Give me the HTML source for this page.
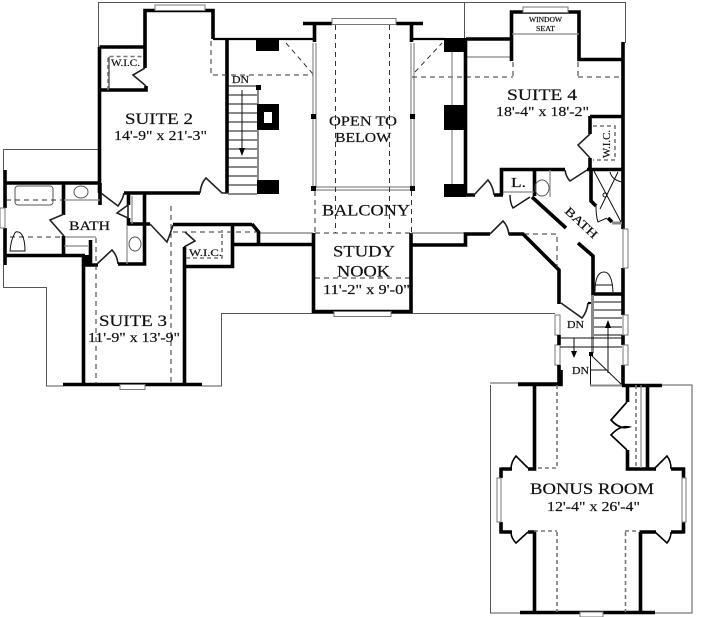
<!DOCTYPE html>
<html><head><meta charset="utf-8"><style>
html,body{margin:0;padding:0;background:#fff}
svg{display:block;position:absolute;left:0;top:0;filter:blur(.3px)}
text{font-family:"Liberation Serif",serif;fill:#111;stroke:#111;stroke-width:.2}
.w{fill:none;stroke:#000;stroke-width:3.6;stroke-linejoin:miter}
.m{fill:none;stroke:#000;stroke-width:2.2}
.t{fill:none;stroke:#555;stroke-width:1}
.g{fill:none;stroke:#888;stroke-width:1.2}
.k{fill:none;stroke:#111;stroke-width:1}
.l{fill:none;stroke:#222;stroke-width:1.6}
.d{fill:none;stroke:#333;stroke-width:1;stroke-dasharray:5 4}
.dg{fill:none;stroke:#777;stroke-width:1.6;stroke-dasharray:4 3}
.win{fill:#fff;stroke:#777;stroke-width:1}
.b{fill:#000}
</style></head><body>
<svg width="725" height="617" viewBox="0 0 725 617" xmlns="http://www.w3.org/2000/svg">
<!-- roof outlines -->
<path class="t" d="M98.500 47V2.500H625.500V43M464.500 2.500V38M3.500 170V149.500H98M3.500 265V287.500H46.500V386H63M202 386H221.500V313.500H555M490 383H518M490.500 385V613H692V385H662"/>
<!-- suite 2 -->
<path class="w" d="M145 68V10.500H213V39"/>
<path class="m" d="M213 39H313"/>
<path class="w" d="M227 39V193"/>
<path class="w" d="M99.500 47V193M99.500 47H145M146 86V90H99.500"/>
<path class="l" d="M145 68L133 75L146 86"/>
<path class="w" d="M124 193H200"/>
<path class="l" d="M200 193Q201 183 206 178L222 193H228"/>
<path class="k" d="M109 90V57"/>
<path class="dg" d="M108 90V56.500H143"/>
<rect class="win" x="155" y="5" width="50" height="5.500"/>
<path class="d" d="M211 41V75H313"/>
<path class="d" d="M286 43L313 74"/>
<!-- stairs -->
<path class="k" d="M228 95H257M228 104H257M228 113H257M228 122H257M228 131H257M228 140H257M228 149H257M228 158H257M228 167H257M228 176H257M228 185H257M228 194H257M242 90V150"/>
<path class="b" d="M239 148H245L242 156Z"/>
<path class="k" d="M228 86H256"/>
<path class="g" style="stroke-width:2" d="M258 90V180"/>
<rect class="b" x="256" y="85" width="5" height="5"/>
<rect class="b" x="256" y="39" width="23" height="12"/>
<path class="b" fill-rule="evenodd" d="M257 104H279V130H257ZM264 112V123H272V112Z"/>
<rect class="b" x="257" y="180" width="22" height="14"/>
<!-- open to below -->
<path class="w" d="M303 23.500H332M396 23.500H423M314.500 23V42M411.500 23V42"/>
<path class="m" d="M411 39H445"/>
<rect class="win" x="332" y="18.500" width="64" height="6"/>
<path class="g" d="M313 43V188M316 43V188M411 43V188M414 43V188M313 187H412M313 190H412"/>
<path class="b" d="M311 114h5v5h-5zM410 114h5v5h-5zM311 186h5v5h-5zM410 186h5v5h-5z"/>
<path class="d" d="M335.500 25V233M389.500 25V233M315 191V233M411.500 191V233M315 233H411M412 77H465M466 77H513M578 77H622M315 278H411"/>
<path class="d" d="M415 72L442 43"/>
<!-- masonry right -->
<rect class="b" x="444" y="38" width="22" height="14"/>
<rect class="b" x="444" y="105" width="22" height="25"/>
<rect class="b" x="444" y="184" width="22" height="13"/>
<path class="g" d="M452 52V105M452 130V184M466 57H512"/>
<path class="w" d="M465.500 39V195M466 39H512"/>
<!-- suite 4 -->
<path class="w" d="M511.500 61V12H579V59.500H623M623 42V229M623 268V315M623 335V345M623 365V385"/>
<path class="g" d="M512 34H579"/>
<rect class="win" x="523" y="7" width="45" height="5.500"/>
<path class="d" d="M513 62V77M578 62V77"/>
<path class="w" d="M590 116.500H623M590 116V134M590 158V169"/>
<path class="l" d="M590 134L578 145L590 158"/>
<path class="dg" d="M593 126H615V160H593"/>
<path class="w" d="M501.500 195V169.500H565M587 169.500H623M534.500 169V196"/>
<path class="l" d="M565 170Q566 177 570 181L587 170"/>
<path class="w" d="M466 195H475M494 195H503"/>
<path class="l" d="M474 195L488 180Q493 186 494 195"/>
<path class="g" d="M503 192H534M550 170V197"/>
<path class="k" style="stroke-width:1.400" d="M510 195Q510 203 513 208L530 197"/>
<ellipse cx="542" cy="188" rx="7" ry="8" class="t"/>
<path class="w" d="M532 197L566 228M578 243L593 256V295M592 294H623"/>
<!-- shower -->
<path class="w" d="M591 169V201L596 206M608 218L612 222"/>
<path class="g" style="stroke-width:3" d="M612 223H622"/>
<path class="k" d="M594 171L621 222M618 172L600 209M596 206Q596 216 598 222L607 218M610 172Q612 180 622 182"/>
<circle cx="605" cy="195" r="2" class="k"/>
<path class="k" d="M595 292Q595 272 604 272Q612 272 613 292M595 285H613"/>
<path class="win" d="M623 229H628V268H623ZM623 315H628V335H623ZM623 345H628V365H623ZM555 315H560V335H555ZM555 345H560V365H555Z"/>
<!-- study nook -->
<path class="w" d="M313.500 233V311.500H411V233"/>
<rect class="win" x="334" y="311.500" width="57" height="5"/>
<path class="t" d="M259 233H313M411 233H465"/>
<path class="w" d="M232 244.500H313M411 245H465.500V234H490M509 234H523L559 270V304M559 335V345M559 365V384H518"/>
<path class="l" d="M490 234L503 221Q508 226 509 235"/>
<path class="d" d="M524 234H557V268"/>
<!-- stairs 2 -->
<path class="l" d="M561 303L582 318Q587 312 588 303"/>
<path class="m" d="M588 303H592"/>
<path class="g" style="stroke-width:3" d="M592.500 295V353"/>
<path class="k" d="M594 302H622M594 310H622M594 318H622M594 327H622M594 335H622M560 338H622M560 347H622M591 355L622 385M590.500 355V386M591 370H606M608 326V373M574 338V353"/>
<path class="g" style="stroke-width:2" d="M590 385.500H622"/>
<path class="b" d="M605 328H611L608 320ZM571 351H577L574 358Z"/>
<rect class="b" x="589" y="352" width="4" height="4"/>
<!-- bonus room -->
<path class="w" d="M518 384.500H561V370M622 385.500H662M528 469H534.500V385M501 469H512M501 467.500V478M501 522V533.500M500 532H512M528 532H534.500V612M520 612.500H655"/>
<path class="w" d="M627.500 385V402M627.500 450V469H656M647.500 385V469M671 469H683.500V478M683.500 522V533.500M684 532H671M640.500 532V612M640 532H656"/>
<rect class="win" x="580" y="612" width="23" height="5"/>
<path class="win" d="M497 478H501V522H497ZM682 478H686V522H682Z"/>
<path class="m" style="stroke-width:1.600" d="M528 468L516 456Q511 462 511 469M528 532L516 543Q511 538 511 532M655 468L667 456Q671 461 671 469M655 532L667 543Q671 538 671 532"/>
<path class="m" style="stroke-width:1.700" d="M627 402L611 420Q620 430 629 427Q620 425 611 435L627 450"/>
<path class="dg" d="M636 385V468"/><path class="g" d="M641 385V468"/>
<path class="dg" d="M557 385V468H535M557 532V612M625.500 532V612M534 531H557M625 531H640"/>
<!-- left bath block -->
<path class="w" d="M5 170V208M5 228V265M5 183H100M100 183V205M5 255.500H85M83.500 255V384M63.500 183V215M63.500 236V255"/>
<rect class="win" x="0" y="208" width="5" height="20"/>
<rect x="15" y="186" width="38" height="19" rx="3" class="t"/>
<ellipse cx="81" cy="192" rx="7" ry="6" class="t"/>
<path class="d" d="M6 200H63M10 237H64"/>
<path class="g" d="M64 200H100M64 246H88M65 237H96"/>
<path class="k" d="M10 251Q11 240 14 235Q15 231 18 232Q20 232 22 235Q25 240 25 251Z"/>
<path class="l" d="M64 214L50 220L64 236"/>
<rect class="b" x="83" y="255" width="9" height="10"/>
<path class="w" d="M90.500 240V265M83 265H98"/>
<path class="l" d="M97 264L112 250Q117 255 118 264"/>
<path class="w" d="M118 264H144.500V193M128.500 193V205M128.500 218V225M127 224H150M173 224.500H252"/>
<path class="l" d="M101 193L118 206Q123 199 124 193M117 213L128 205V218Z"/>
<path class="g" d="M132 196V224M127 225V264"/>
<ellipse cx="135" cy="244" rx="6" ry="7" class="t"/>
<path class="l" d="M150 224L167 242Q171 232 173 225"/>
<path class="w" d="M252 224L258.500 232V244"/>
<path class="w" d="M184.500 247V384M184 266.500H232.500V225"/>
<path class="w" d="M63 384.500H202"/>
<path class="l" d="M185 232L195 241L184 247"/>
<rect class="win" x="120" y="384.500" width="25" height="5"/>
<path class="d" d="M96 238V384M171 206V384M173 232H258"/>
<path class="dg" d="M186 258H222V230"/>
<!-- labels -->
<text x="125" y="124" font-size="16" textLength="68" lengthAdjust="spacingAndGlyphs">SUITE 2</text>
<text x="114" y="140" font-size="13.500" textLength="93" lengthAdjust="spacingAndGlyphs">14'-9" x 21'-3"</text>
<text x="111" y="66" font-size="9.500" textLength="29" lengthAdjust="spacingAndGlyphs">W.I.C.</text>
<text x="232" y="83" font-size="10" textLength="17" lengthAdjust="spacingAndGlyphs">DN</text>
<text x="99" y="326" font-size="16" textLength="68" lengthAdjust="spacingAndGlyphs">SUITE 3</text>
<text x="88" y="342" font-size="13.500" textLength="92" lengthAdjust="spacingAndGlyphs">11'-9" x 13'-9"</text>
<text x="69" y="230" font-size="13" textLength="41" lengthAdjust="spacingAndGlyphs">BATH</text>
<text x="189" y="256" font-size="9.500" textLength="33" lengthAdjust="spacingAndGlyphs">W.I.C.</text>
<text x="329" y="125.500" font-size="13.500" textLength="68" lengthAdjust="spacingAndGlyphs">OPEN TO</text>
<text x="335" y="142" font-size="13.500" textLength="56" lengthAdjust="spacingAndGlyphs">BELOW</text>
<text x="529" y="22" font-size="7" textLength="33" lengthAdjust="spacingAndGlyphs">WINDOW</text>
<text x="536" y="31" font-size="7" textLength="19" lengthAdjust="spacingAndGlyphs">SEAT</text>
<text x="507" y="100" font-size="16" textLength="70" lengthAdjust="spacingAndGlyphs">SUITE 4</text>
<text x="496" y="116" font-size="13.500" textLength="93" lengthAdjust="spacingAndGlyphs">18'-4" x 18'-2"</text>
<text transform="translate(610 158) rotate(-90)" font-size="10" textLength="28" lengthAdjust="spacingAndGlyphs">W.I.C.</text>
<text x="511" y="187" font-size="14" textLength="15" lengthAdjust="spacingAndGlyphs">L.</text>
<text transform="translate(564 212) rotate(43)" font-size="12" textLength="40" lengthAdjust="spacingAndGlyphs">BATH</text>
<text x="322" y="215.500" font-size="16" textLength="88" lengthAdjust="spacingAndGlyphs">BALCONY</text>
<text x="333" y="256.500" font-size="16" textLength="62" lengthAdjust="spacingAndGlyphs">STUDY</text>
<text x="337" y="276.500" font-size="16" textLength="53" lengthAdjust="spacingAndGlyphs">NOOK</text>
<text x="323" y="294" font-size="13.500" textLength="87" lengthAdjust="spacingAndGlyphs">11'-2" x 9'-0"</text>
<text x="567" y="328" font-size="10" textLength="17" lengthAdjust="spacingAndGlyphs">DN</text>
<text x="572" y="374" font-size="10" textLength="17" lengthAdjust="spacingAndGlyphs">DN</text>
<text x="530" y="494" font-size="16" textLength="124" lengthAdjust="spacingAndGlyphs">BONUS ROOM</text>
<text x="547" y="511" font-size="13.500" textLength="93" lengthAdjust="spacingAndGlyphs">12'-4" x 26'-4"</text>
</svg>
</body></html>
